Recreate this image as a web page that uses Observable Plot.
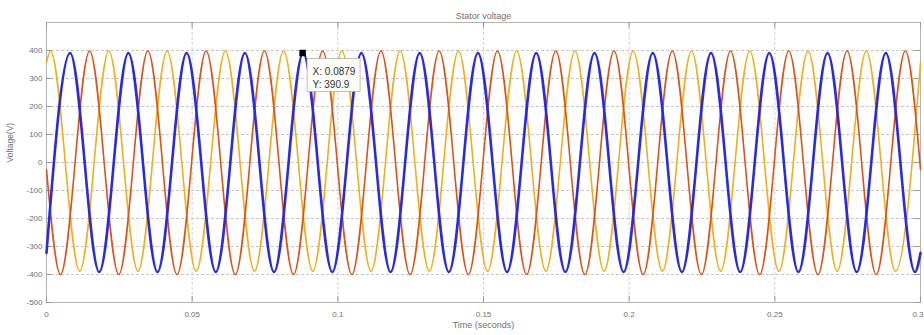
<!DOCTYPE html>
<html>
<head>
<meta charset="utf-8">
<script src="https://cdn.jsdelivr.net/npm/d3@7"></script>
<script src="https://cdn.jsdelivr.net/npm/@observablehq/plot@0.6"></script>
<style>
  html, body { margin: 0; padding: 0; background: #fff; }
</style>
</head>
<body>
<div id="chart"></div>
<script>
// Three-phase stator voltage, 50 Hz, 0–0.3 s.
const titleText = "Stator voltage";
const xLabel = "Time (seconds)";
const yLabel = "Voltage(V)";

const timeTicks = [0, 0.05, 0.1, 0.15, 0.2, 0.25, 0.3];
const voltTicks = [-500, -400, -300, -200, -100, 0, 100, 200, 300, 400];

// Phase A (yellow): times of crests and troughs (s) and their levels (V)
const yellowPeaks   = [0.0014, 0.0214, 0.0414, 0.0614, 0.0814, 0.1014, 0.1214, 0.1414, 0.1614, 0.1814, 0.2014, 0.2214, 0.2414, 0.2614, 0.2814];
const yellowTroughs = [0.0114, 0.0314, 0.0514, 0.0714, 0.0914, 0.1114, 0.1314, 0.1514, 0.1714, 0.1914, 0.2114, 0.2314, 0.2514, 0.2714, 0.2914];
const yellowLevels  = [398, -388];
const yellowEnds    = [357, 357];

// Phase B (blue)
const bluePeaks   = [0.0081, 0.0281, 0.0481, 0.0681, 0.0881, 0.1081, 0.1281, 0.1481, 0.1681, 0.1881, 0.2081, 0.2281, 0.2481, 0.2681, 0.2881];
const blueTroughs = [0.0181, 0.0381, 0.0581, 0.0781, 0.0981, 0.1181, 0.1381, 0.1581, 0.1781, 0.1981, 0.2181, 0.2381, 0.2581, 0.2781, 0.2981];
const blueLevels  = [391, -391];
const blueEnds    = [-323, -323];

// Phase C (orange)
const orangePeaks   = [0.0148, 0.0348, 0.0548, 0.0748, 0.0948, 0.1148, 0.1348, 0.1548, 0.1748, 0.1948, 0.2148, 0.2348, 0.2548, 0.2748, 0.2948];
const orangeTroughs = [0.0048, 0.0248, 0.0448, 0.0648, 0.0848, 0.1048, 0.1248, 0.1448, 0.1648, 0.1848, 0.2048, 0.2248, 0.2448, 0.2648, 0.2848];
const orangeLevels  = [398, -400];
const orangeEnds    = [-25, -25];

// Data cursor
const cursorX = 0.0879;
const cursorY = 390.9;

const tStart = 0, tEnd = 0.3;

function phase(peaks, troughs, levels, ends) {
  return [
    {t: tStart, v: ends[0]},
    ...peaks.map(t => ({t, v: levels[0]})),
    ...troughs.map(t => ({t, v: levels[1]})),
    {t: tEnd, v: ends[1]}
  ].sort((a, b) => a.t - b.t);
}

const yellow = phase(yellowPeaks, yellowTroughs, yellowLevels, yellowEnds);
const blue = phase(bluePeaks, blueTroughs, blueLevels, blueEnds);
const orange = phase(orangePeaks, orangeTroughs, orangeLevels, orangeEnds);
const cursor = [{t: cursorX, v: cursorY}];

const W = 924, H = 335, mL = 46, mR = 4, mT = 22, mB = 33;
const frameW = W - mL - mR, frameH = H - mT - mB, tick = 6;
const grey = "#707070";

const svg = Plot.plot({
  width: W,
  height: H,
  marginLeft: mL,
  marginRight: mR,
  marginTop: mT,
  marginBottom: mB,
  style: {fontFamily: "'Liberation Sans', Arial, sans-serif", fontSize: "8px", color: grey, background: "#fff"},
  x: {domain: [tStart, tEnd]},
  y: {domain: [-500, 500]},
  marks: [
    Plot.gridY(voltTicks, {stroke: "#c9c6bc", strokeOpacity: 1, strokeDasharray: "3,2"}),
    Plot.gridX(timeTicks, {stroke: "#d0d0d0", strokeOpacity: 1, strokeDasharray: "3,2"}),
    Plot.frame({stroke: "#b4b4b4"}),
    // inward ticks on all four sides
    Plot.ruleX(timeTicks, {x: d => d, insetTop: frameH - tick, stroke: "#999"}),
    Plot.ruleX(timeTicks, {x: d => d, insetBottom: frameH - tick, stroke: "#999"}),
    Plot.ruleY(voltTicks, {y: d => d, insetRight: frameW - tick, stroke: "#999"}),
    Plot.ruleY(voltTicks, {y: d => d, insetLeft: frameW - tick, stroke: "#999"}),
    Plot.axisY(voltTicks, {tickSize: 0, tickPadding: 4, tickFormat: d => String(d), label: null, fill: grey}),
    Plot.axisX(timeTicks.slice(0, -1), {tickSize: 0, tickPadding: 9, tickFormat: d => String(d), label: null, fill: grey}),
    Plot.axisX(timeTicks.slice(-1), {tickSize: 0, tickPadding: 9, tickFormat: d => String(d), label: null, fill: grey, textAnchor: "end", dx: 3}),
    Plot.line(yellow, {x: "t", y: "v", curve: "monotone-x", stroke: "#edb120", strokeWidth: 1.6}),
    Plot.line(orange, {x: "t", y: "v", curve: "monotone-x", stroke: "#d9541a", strokeWidth: 1.6}),
    Plot.line(blue, {x: "t", y: "v", curve: "monotone-x", stroke: "#2a2ade", strokeWidth: 2.6}),
    Plot.dot(cursor, {x: "t", y: "v", symbol: "square", r: 2.8, fill: "#000", stroke: "#000"}),
    // data cursor label box, offset below-right of the cursor point
    Plot.rect(cursor, {
      x1: "t", x2: "t", y1: "v", y2: "v",
      insetLeft: 5, insetRight: -58, insetTop: 6, insetBottom: -39,
      fill: "#fdfdf6", stroke: "#b0b0b0", strokeWidth: 0.8
    }),
    Plot.text(cursor, {
      x: "t", y: "v",
      text: d => `X: ${d.t}\nY: ${d.v}`,
      dx: 10, dy: 12, textAnchor: "start", lineAnchor: "top", lineHeight: 1.35,
      fontSize: 10, fill: "#333"
    }),
    Plot.text([titleText], {frameAnchor: "top", dy: -10, fontSize: 9, fill: grey}),
    Plot.text([xLabel], {frameAnchor: "bottom", dy: 25, fontSize: 9, fill: grey}),
    Plot.text([yLabel], {frameAnchor: "left", dx: -36, rotate: -90, fontSize: 8.5, fill: grey})
  ]
});

document.getElementById("chart").appendChild(svg);
</script>
</body>
</html>
